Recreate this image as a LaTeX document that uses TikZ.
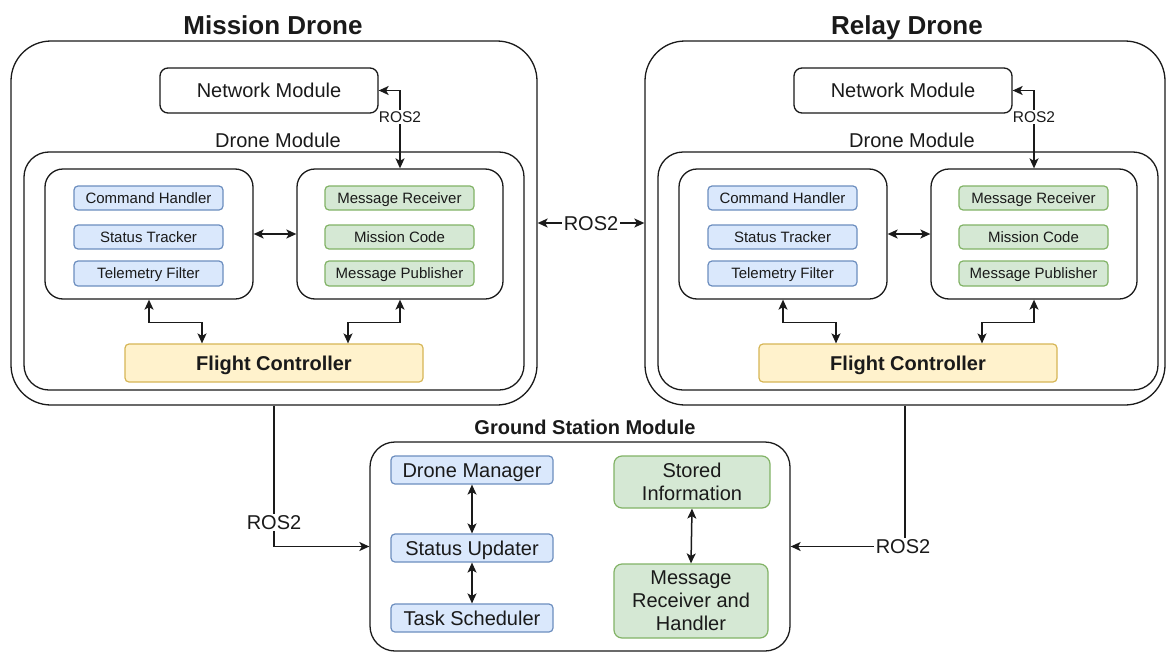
\documentclass[tikz,border=0pt]{standalone}
\usepackage{fontspec}
\setmainfont{Liberation Sans}
\usetikzlibrary{arrows.meta,calc}
\definecolor{bluef}{HTML}{DAE8FC}
\definecolor{blued}{HTML}{6C8EBF}
\definecolor{greenf}{HTML}{D5E8D4}
\definecolor{greend}{HTML}{82B366}
\definecolor{yelf}{HTML}{FFF2CC}
\definecolor{yeld}{HTML}{D6B656}
\definecolor{ink}{HTML}{1A1A1A}
\newcommand\mybox[7]{\node[#6, minimum width={(#4)-(#2)}, minimum height={(#5)-(#3)}, align=center] (#1) at ({((#2)+(#4))/2},{((#3)+(#5))/2}) {#7};}
\tikzset{
  frame/.style={draw=ink, line width=1.3pt, rounded corners=#1, fill=white, inner sep=0pt, text=ink},
  bluebox/.style={draw=blued, fill=bluef, line width=1.2pt, rounded corners=#1, inner sep=0pt, text=ink},
  greenbox/.style={draw=greend, fill=greenf, line width=1.2pt, rounded corners=#1, inner sep=0pt, text=ink},
  yellowbox/.style={draw=yeld, fill=yelf, line width=1.2pt, rounded corners=4pt, inner sep=0pt, text=ink},
  tip/.tip={Stealth[length=10pt,width=9pt,inset=2.5pt]},
  dbl/.style={tip-tip, line width=1.5pt, draw=ink},
  arr/.style={-tip, line width=1.5pt, draw=ink},
  lbl/.style={fill=white, inner sep=1.5pt, text=ink},
  small/.style={font=\fontsize{15}{18}\selectfont, text height=10.7pt, text depth=0pt},
  mid/.style={font=\fontsize{20}{23}\selectfont, text height=14.3pt, text depth=0pt},
  midm/.style={font=\fontsize{20}{23}\selectfont},
  midb/.style={font=\fontsize{20}{23}\selectfont\bfseries, text height=14.3pt, text depth=0pt},
}
\begin{document}
\begin{tikzpicture}[x=1pt,y=-1pt]
\useasboundingbox (0,0) rectangle (1167,653);
\foreach \p/\d/\w/\t in {m/0/537/Mission Drone, r/634/531/Relay Drone}{
\begin{scope}[xshift=\d pt]
  \node[text=ink, font=\fontsize{26}{30}\selectfont\bfseries, text height=18.7pt, text depth=0pt] (\p-title) at (273,25) {\t};
  \mybox{\p-outer}{11}{41}{\w}{405}{frame=40pt}{}
  \mybox{\p-net}{160}{68}{378}{113}{frame=8pt, mid}{Network Module}
  \node[mid, text=ink] (\p-dmlabel) at (278,140) {Drone Module};
  \mybox{\p-dm}{24}{152}{524}{390}{frame=25pt}{}
  \mybox{\p-left}{45}{169}{253}{299}{frame=18pt}{}
  \mybox{\p-right}{297}{169}{503}{299}{frame=18pt}{}
  \mybox{\p-ch}{74}{186}{223}{210}{bluebox=4pt, small}{Command Handler}
  \mybox{\p-st}{74}{225}{223}{249}{bluebox=4pt, small}{Status Tracker}
  \mybox{\p-tf}{74}{261}{223}{286}{bluebox=4pt, small}{Telemetry Filter}
  \mybox{\p-mr}{325}{186}{474}{210}{greenbox=4pt, small}{Message Receiver}
  \mybox{\p-mc}{325}{225}{474}{249}{greenbox=4pt, small}{Mission Code}
  \mybox{\p-mp}{325}{261}{474}{286}{greenbox=4pt, small}{Message Publisher}
  \mybox{\p-fc}{125}{344}{423}{382}{yellowbox, midb}{Flight Controller}
  \draw[dbl] (\p-net.east) -| node[lbl, pos=0.67, font=\fontsize{15.5}{18}\selectfont, text height=11pt, text depth=0pt] {ROS2} (\p-right.north);
  \draw[dbl] (\p-left.east) -- (\p-right.west);
  \draw[dbl] (\p-left.south) -- ++(0,23) -| ([xshift=-72pt]\p-fc.north);
  \draw[dbl] (\p-right.south) -- ++(0,23) -| ([xshift=74pt]\p-fc.north);
\end{scope}
}
\draw[dbl] (m-outer.east) -- node[lbl, mid] {ROS2} (r-outer.west);
% Ground station
\node[midb, text=ink] (gslabel) at (585,427) {Ground Station Module};
\mybox{gs}{370}{442}{790}{651}{frame=25pt}{}
\mybox{dmn}{391}{456}{553}{484}{bluebox=4pt, mid}{Drone Manager}
\mybox{su}{391}{534}{553}{562}{bluebox=4pt, mid}{Status Updater}
\mybox{ts}{391}{604}{553}{632}{bluebox=4pt, mid}{Task Scheduler}
\mybox{si}{614}{456}{770}{508}{greenbox=8pt, midm}{Stored\\Information}
\mybox{mrh}{614}{564}{768}{638}{greenbox=8pt, midm}{Message\\Receiver and\\Handler}
\draw[dbl] (dmn.south) -- (su.north);
\draw[dbl] (su.south) -- (ts.north);
\draw[dbl] (si.south) -- (mrh.north);
\draw[arr] (m-outer.south) |- node[lbl, mid, pos=0.415] {ROS2} (gs.west);
\draw[arr] (r-outer.south) |- node[lbl, mid, pos=0.5, xshift=-2pt] {ROS2} (gs.east);
\end{tikzpicture}
\end{document}
